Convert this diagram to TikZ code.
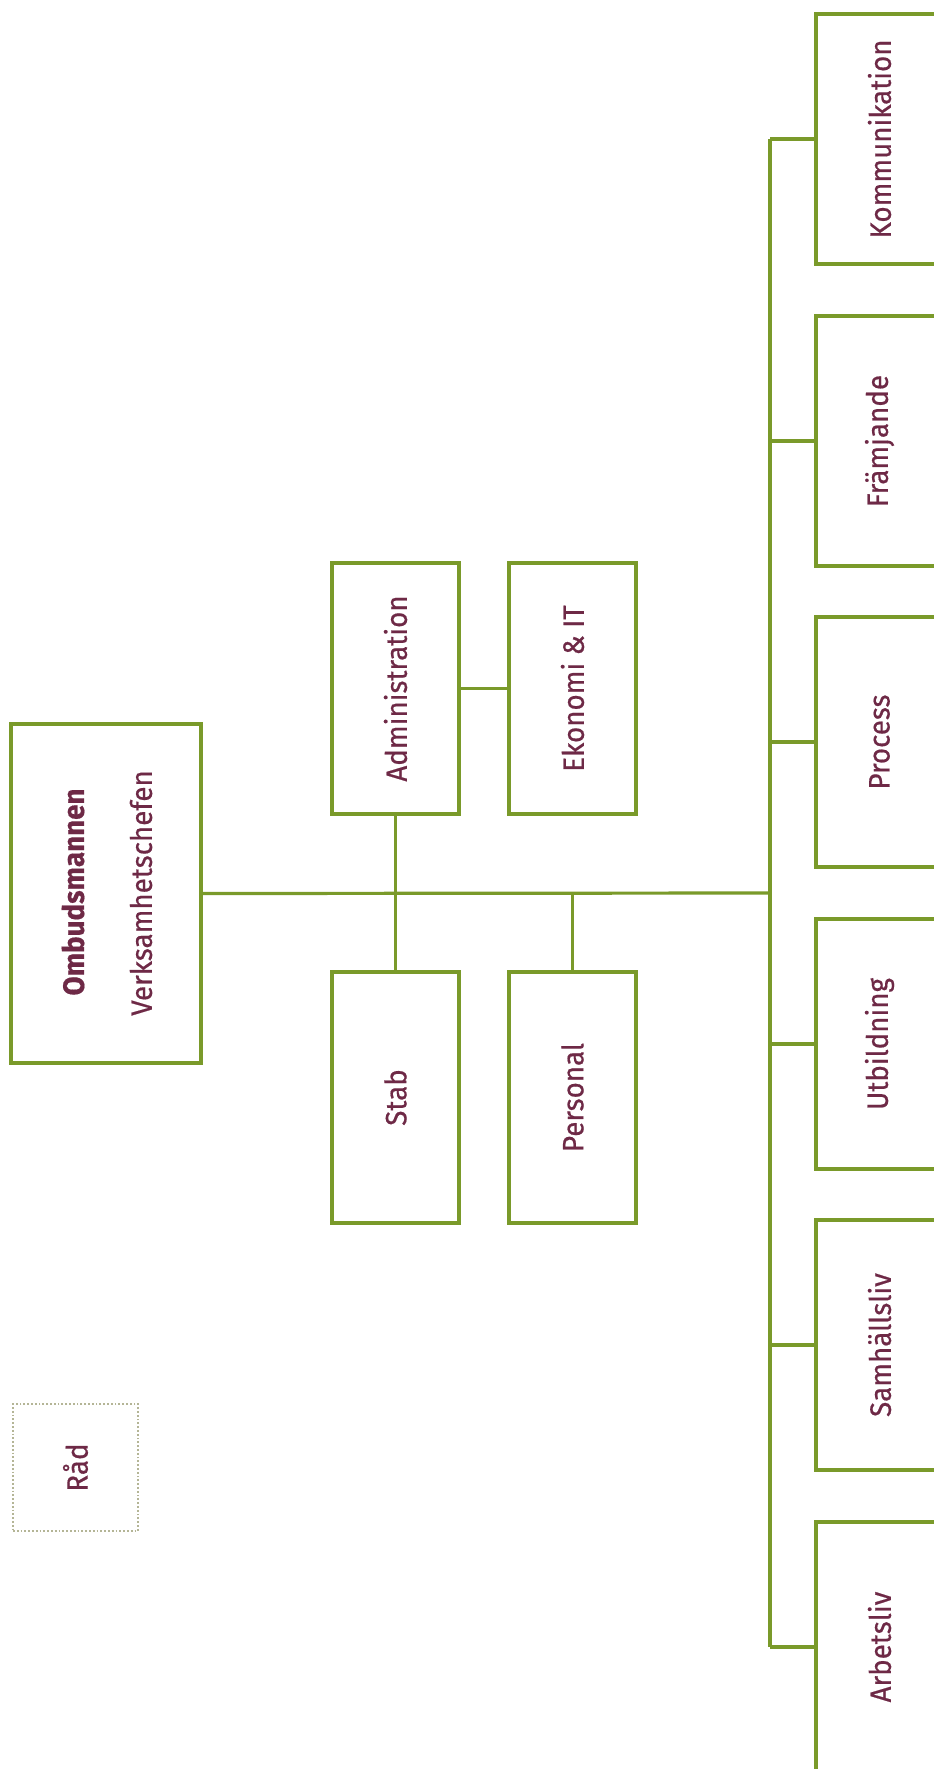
\documentclass[tikz,border=0pt]{standalone}
\usepackage{fontspec}
\setmainfont{Fira Sans}[FakeStretch=0.94,FakeBold=0.5]
\definecolor{txtc}{HTML}{6E2946}
\definecolor{grn}{HTML}{7A9A2A}
\definecolor{dotc}{HTML}{B4B596}
\begin{document}
\begin{tikzpicture}[x=1pt,y=-1pt,
  box/.style={draw=grn,line width=3.2pt,fill=white,inner sep=0pt,outer sep=0pt,minimum width=127pt,minimum height=251pt},
  rbox/.style={box,minimum height=250pt},
  lbl/.style={rotate=90,text=txtc,font=\fontsize{29.5}{34}\selectfont,inner sep=0pt},
  con/.style={draw=grn,line width=3.2pt}]
\clip (0,0) rectangle (934,1769);
\fill[white] (0,0) rectangle (934,1769);
% main box
\node[box,minimum width=190pt,minimum height=339pt] (omb) at (106,893.5) {};
\node[lbl,font=\fontsize{29.5}{34}\selectfont\bfseries] (ombt) at (73,892) {Ombudsmannen};
\node[lbl] (verk) at (141,893) {Verksamhetschefen};
% middle boxes
\node[box] (adm) at (395.5,688.5) {};
\node[lbl] (admt) at (adm.center) {Administration};
\node[box] (eko) at (572.5,688.5) {};
\node[lbl] (ekot) at (eko.center) {Ekonomi \& IT};
\node[box] (stab) at (395.5,1097.5) {};
\node[lbl] (stabt) at (stab.center) {Stab};
\node[box] (pers) at (572.5,1097.5) {};
\node[lbl] (perst) at (pers.center) {Personal};
% right boxes
\node[rbox] (kom) at (879.5,139) {};
\node[lbl] (komt) at (kom.center) {Kommunikation};
\node[rbox] (fram) at (879.5,441) {};
\node[lbl] (framt) at (fram.center) {Främjande};
\node[rbox] (proc) at (879.5,742) {};
\node[lbl] (proct) at (proc.center) {Process};
\node[rbox] (utb) at (879.5,1044) {};
\node[lbl] (utbt) at (utb.center) {Utbildning};
\node[rbox] (samh) at (879.5,1345) {};
\node[lbl] (samht) at (samh.center) {Samhällsliv};
\node[rbox] (arb) at (879.5,1647) {};
\node[lbl] (arbt) at (arb.center) {Arbetsliv};
% Råd
\node[draw=dotc,line width=1.8pt,dotted,inner sep=0pt,minimum width=125pt,minimum height=127pt] (rad) at (75.5,1467.5) {};
\node[lbl] (radt) at (rad.center) {Råd};
% trunk coordinates
\coordinate (tk) at (770,139);
\coordinate (ta) at (770,1647);
\coordinate (tm) at (770,893);
\coordinate (ja) at (395.5,893);
\coordinate (jp) at (572.5,893);
% connectors
\draw[con] (omb.east) -- (tm);
\draw[con] (tk) -- (ta);
\foreach \b in {kom,fram,proc,utb,samh,arb}
  \draw[con] (\b.west) -- (\b.west -| tk);
\draw[con] (adm.south) -- (ja) -- (stab.north);
\draw[con] (pers.north) -- (jp);
\draw[con] (adm.east) -- (eko.west);
\end{tikzpicture}
\end{document}
